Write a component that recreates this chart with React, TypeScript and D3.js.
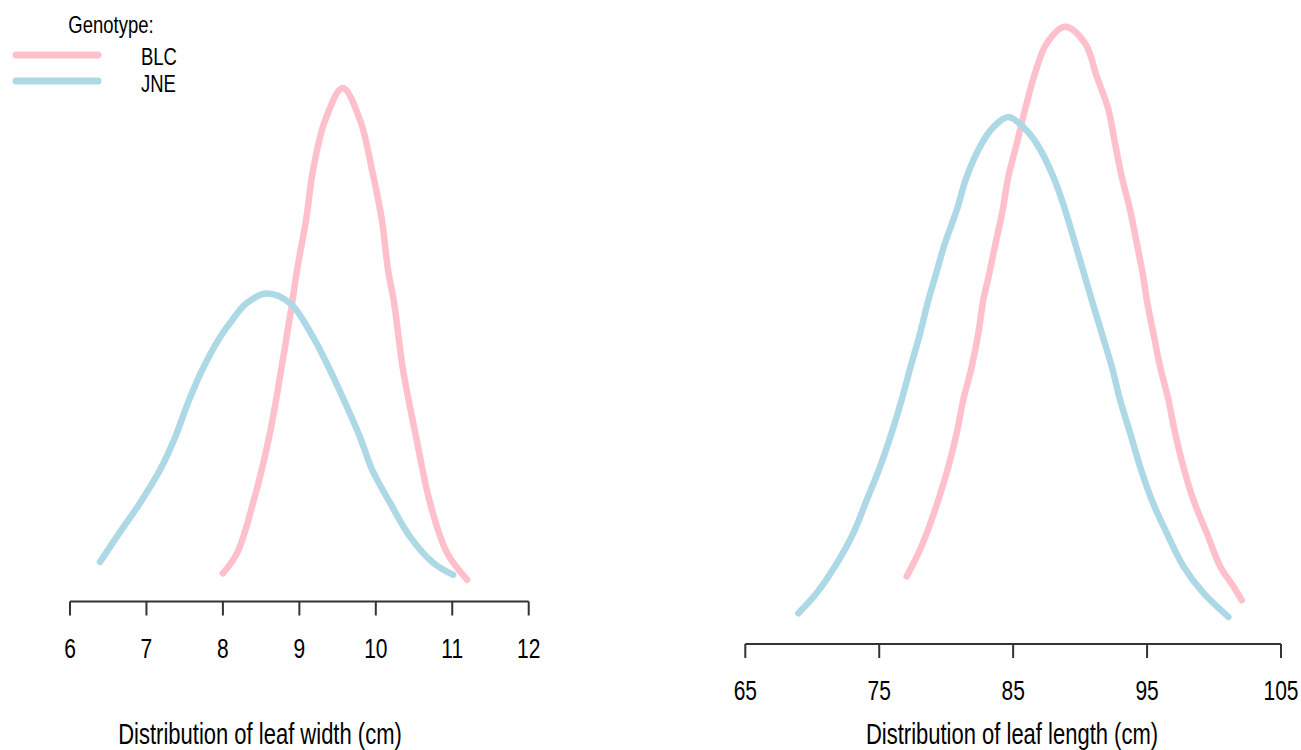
import React from 'react';
import * as d3 from 'd3';

// leaf width densities
const widthBLCx = [8.0, 8.185, 8.395, 8.604, 8.761, 8.905, 8.97, 9.088, 9.18, 9.337, 9.568, 9.795, 9.95, 10.079, 10.16, 10.24, 10.357, 10.528, 10.71, 10.933, 11.195];
const widthBLCy = [0.033, 0.058, 0.12, 0.201, 0.284, 0.367, 0.408, 0.47, 0.532, 0.593, 0.633, 0.593, 0.532, 0.47, 0.408, 0.367, 0.284, 0.201, 0.12, 0.058, 0.025];
const widthJNEx = [6.393, 6.611, 6.916, 7.178, 7.374, 7.544, 7.727, 7.963, 8.12, 8.31, 8.574, 8.879, 9.18, 9.402, 9.598, 9.795, 9.952, 10.187, 10.449, 10.75, 11.012];
const widthJNEy = [0.047, 0.078, 0.12, 0.161, 0.201, 0.244, 0.284, 0.325, 0.346, 0.367, 0.379, 0.367, 0.325, 0.284, 0.244, 0.201, 0.161, 0.12, 0.078, 0.046, 0.031];

// leaf length densities
const lengthBLCx = [77.05, 77.92, 78.55, 79.41, 80.16, 80.79, 81.28, 81.91, 82.4, 82.77, 83.16, 83.69, 84.22, 84.64, 85.27, 85.89, 86.56, 87.51, 88.88, 90.37, 91.24, 92.11, 92.61, 93.11, 93.73, 94.23, 94.72, 94.98, 95.47, 95.97, 96.59, 97.09, 97.71, 98.46, 99.46, 100.45, 101.45, 102.07];
const lengthBLCy = [0.0093, 0.0118, 0.014, 0.0176, 0.0212, 0.0249, 0.0285, 0.0321, 0.0357, 0.0393, 0.0418, 0.0455, 0.0491, 0.0527, 0.0563, 0.06, 0.0636, 0.0672, 0.069, 0.0672, 0.0636, 0.06, 0.0563, 0.0527, 0.0491, 0.0455, 0.0418, 0.0393, 0.0357, 0.0321, 0.0285, 0.0249, 0.0212, 0.0176, 0.014, 0.0104, 0.0082, 0.0067];
const lengthJNEx = [68.96, 70.33, 71.7, 73.07, 74.07, 75.06, 75.93, 76.68, 77.35, 78.05, 78.67, 79.17, 79.91, 80.79, 81.53, 82.65, 83.52, 84.64, 85.76, 86.76, 88.0, 88.88, 89.62, 90.37, 90.87, 91.62, 92.36, 92.98, 93.73, 94.48, 95.35, 96.47, 97.71, 99.2, 101.07];
const lengthJNEy = [0.0053, 0.0075, 0.0104, 0.014, 0.0176, 0.0212, 0.0249, 0.0285, 0.0321, 0.0357, 0.0393, 0.0418, 0.0455, 0.0491, 0.0527, 0.0563, 0.0581, 0.0592, 0.0581, 0.0563, 0.0527, 0.0491, 0.0455, 0.0418, 0.0393, 0.0357, 0.0321, 0.0285, 0.0249, 0.0212, 0.0176, 0.014, 0.0104, 0.0075, 0.0049];

const widthTicks = [6, 7, 8, 9, 10, 11, 12];
const lengthTicks = [65, 75, 85, 95, 105];
const genotypes = ['BLC', 'JNE'];
const colors = ['pink', 'lightblue'];

const FONT = '"Liberation Sans", Arial, sans-serif';
const STRETCH = 1.33;

function Txt({ x, y, size, anchor = 'middle', children }) {
  return (
    <text
      transform={`translate(${x},${y}) scale(1,${STRETCH})`}
      fontSize={size}
      fontFamily={FONT}
      textAnchor={anchor}
      dominantBaseline="central"
      fill="#000"
    >
      {children}
    </text>
  );
}

function Panel({ x, y, series, ticks, axisY, labelY, title, titleX }) {
  const line = d3
    .line()
    .x(d => x(d[0]))
    .y(d => y(d[1]))
    .curve(d3.curveCatmullRom.alpha(0.5));
  return (
    <g>
      {series.map((s, i) => (
        <path key={i} d={line(s)} fill="none" stroke={colors[i]} strokeWidth={6.5} strokeLinecap="round" strokeLinejoin="round" />
      ))}
      <line x1={x(ticks[0])} x2={x(ticks[ticks.length - 1])} y1={axisY} y2={axisY} stroke="#333" strokeWidth={2} />
      {ticks.map(t => (
        <g key={t}>
          <line x1={x(t)} x2={x(t)} y1={axisY} y2={axisY + 14} stroke="#333" strokeWidth={2} />
          <Txt x={x(t)} y={labelY} size={21}>{t}</Txt>
        </g>
      ))}
      <Txt x={titleX} y={734} size={22}>{title}</Txt>
    </g>
  );
}

export default function App() {
  const xW = d3.scaleLinear().domain([6, 12]).range([70, 528.7]);
  const yW = d3.scaleLinear().domain([0, 0.633]).range([600, 88]);
  const xL = d3.scaleLinear().domain([65, 105]).range([745.3, 1281]);
  const yL = d3.scaleLinear().domain([0, 0.069]).range([662, 26.7]);

  const zip = (a, b) => a.map((v, i) => [v, b[i]]);

  return (
    <svg width={1301} height={750} style={{ position: 'absolute', left: 0, top: 0, background: '#fff' }}>
      <rect width={1301} height={750} fill="#fff" />
      <Panel
        x={xW}
        y={yW}
        series={[zip(widthBLCx, widthBLCy), zip(widthJNEx, widthJNEy)]}
        ticks={widthTicks}
        axisY={601.5}
        labelY={648}
        title="Distribution of leaf width (cm)"
        titleX={260}
      />
      <Panel
        x={xL}
        y={yL}
        series={[zip(lengthBLCx, lengthBLCy), zip(lengthJNEx, lengthJNEy)]}
        ticks={lengthTicks}
        axisY={644}
        labelY={690}
        title="Distribution of leaf length (cm)"
        titleX={1012}
      />
      <g>
        <Txt x={111} y={25} size={18.5}>Genotype:</Txt>
        {genotypes.map((g, i) => (
          <g key={g}>
            <line x1={16} x2={98} y1={55 + i * 26} y2={55 + i * 26} stroke={colors[i]} strokeWidth={7} strokeLinecap="round" />
            <Txt x={141} y={57 + i * 27} size={18.5} anchor="start">{g}</Txt>
          </g>
        ))}
      </g>
    </svg>
  );
}
